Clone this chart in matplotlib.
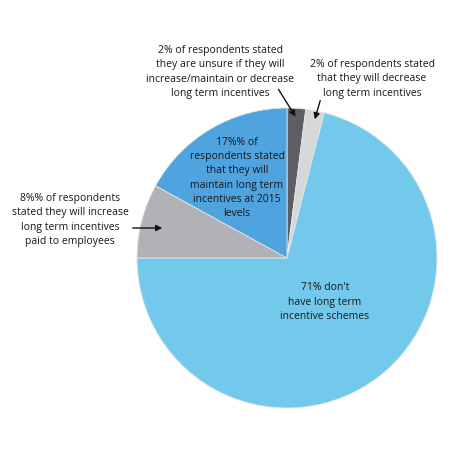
import matplotlib.pyplot as plt

# slices in clockwise order starting at 12 o'clock
shares = [2, 2, 71, 8, 17]
colors = ['#5d5e61', '#d6d7d9', '#73c9ec', '#b1b2b5', '#4fa3de']

label_unsure = "2% of respondents stated\nthey are unsure if they will\nincrease/maintain or decrease\nlong term incentives"
label_decrease = "2% of respondents stated\nthat they will decrease\nlong term incentives"
label_none = "71% don't\nhave long term\nincentive schemes"
label_increase = "8%% of respondents\nstated they will increase\nlong term incentives\npaid to employees"
label_maintain = "17%% of\nrespondents stated\nthat they will\nmaintain long term\nincentives at 2015\nlevels"

plt.rcParams['font.family'] = ['Open Sans', 'DejaVu Sans']

fig = plt.figure(figsize=(4.5, 4.5), dpi=100)
ax = fig.add_axes([0, 0, 1, 1])

ax.pie(shares, colors=colors, startangle=90, counterclock=False,
       center=(287, 192), radius=150,
       wedgeprops=dict(edgecolor='#e4e6e8', linewidth=0.6))
ax.set_xlim(0, 450)
ax.set_ylim(0, 450)
ax.set_aspect('equal')
ax.axis('off')

fs = 7.5
txt = dict(ha='center', va='center', fontsize=fs, color='#1a1718', linespacing=1.38)
ax.text(220, 378, label_unsure, **txt)
ax.text(372, 371, label_decrease, **txt)
ax.text(325, 148, label_none, **txt)
ax.text(70, 230, label_increase, **txt)
ax.text(237, 272, label_maintain, **txt)

arrow = dict(arrowstyle='-|>', color='#111111', lw=1.0, mutation_scale=9)
ax.annotate('', xy=(297, 331), xytext=(277, 363), arrowprops=arrow)
ax.annotate('', xy=(314, 328), xytext=(321, 352), arrowprops=arrow)
ax.annotate('', xy=(165, 222), xytext=(130, 222), arrowprops=arrow)

fig.savefig('out.png', dpi=100)
